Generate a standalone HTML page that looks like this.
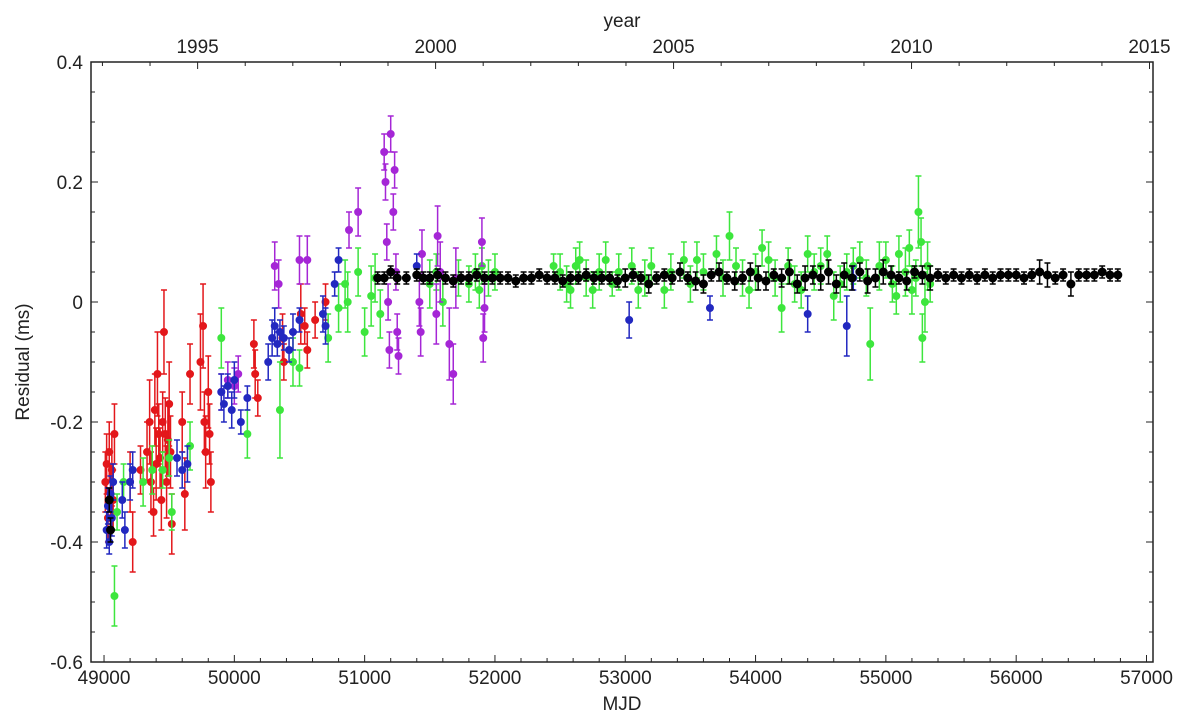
<!DOCTYPE html>
<html><head><meta charset="utf-8"><style>
body{margin:0;background:#fff;width:1200px;height:720px;overflow:hidden}
svg text{font-family:"Liberation Sans",sans-serif;fill:#222}
</style></head><body>
<svg id="c" width="1200" height="720">
<g id="marks"></g>
<g id="axes"></g>
</svg>
<script>
const redM=[49010,49030,49040,49050,49060,49080,49200,49220,49280,49330,49350,49360,49380,49400,49410,49420,49440,49460,49470,49480,49500,49510,49520,49600,49620,49660,49740,49760,49770,49780,49800,49820,49810,50150,50160,50180,50370,50380,50540,50560,50510,50700,50620,49020,49070,49390,49430,49450,49490];
const redR=[-0.30,-0.36,-0.25,-0.32,-0.28,-0.22,-0.30,-0.40,-0.28,-0.25,-0.20,-0.30,-0.35,-0.27,-0.12,-0.22,-0.33,-0.05,-0.22,-0.30,-0.17,-0.25,-0.37,-0.20,-0.32,-0.12,-0.10,-0.04,-0.20,-0.25,-0.15,-0.30,-0.22,-0.07,-0.12,-0.16,-0.06,-0.10,-0.04,-0.08,-0.02,0.00,-0.03,-0.27,-0.33,-0.18,-0.26,-0.20,-0.23];
const redE=[0.05,0.04,0.05,0.05,0.06,0.05,0.05,0.05,0.04,0.05,0.07,0.05,0.04,0.06,0.07,0.05,0.05,0.07,0.06,0.06,0.07,0.06,0.05,0.05,0.06,0.05,0.08,0.07,0.05,0.06,0.06,0.05,0.05,0.04,0.04,0.03,0.04,0.03,0.03,0.03,0.05,0.03,0.03,0.05,0.05,0.06,0.05,0.05,0.06];
const bluM=[49020,49030,49040,49050,49060,49070,49140,49160,49200,49220,49560,49600,49640,49900,49920,49950,49980,50000,50050,50100,50260,50290,50310,50330,50350,50380,50420,50450,50500,50680,50700,50770,50800,51400,53030,53650,54400,54700,54750];
const bluR=[-0.38,-0.34,-0.40,-0.32,-0.36,-0.30,-0.33,-0.38,-0.30,-0.28,-0.26,-0.28,-0.27,-0.15,-0.17,-0.14,-0.18,-0.13,-0.20,-0.16,-0.10,-0.06,-0.04,-0.07,-0.05,-0.06,-0.08,-0.05,-0.03,-0.02,-0.04,0.03,0.07,0.06,-0.03,-0.01,-0.02,-0.04,0.04];
const bluE=[0.03,0.03,0.02,0.03,0.03,0.03,0.03,0.03,0.03,0.03,0.03,0.03,0.03,0.03,0.03,0.02,0.03,0.03,0.02,0.02,0.03,0.03,0.03,0.02,0.02,0.02,0.02,0.03,0.02,0.03,0.03,0.02,0.02,0.02,0.03,0.02,0.03,0.05,0.02];
const grnM=[49080,49100,49150,49300,49370,49450,49500,49520,49660,49900,50100,50350,50450,50500,50720,50800,50870,50850,50950,51050,51080,51120,51000,51500,51550,51600,51720,51850,51900,51880,52450,52580,52650,52700,52800,52900,53050,53150,53300,53450,53600,53700,53800,53900,54000,54100,54200,54300,54400,54500,54600,54700,54800,54880,54950,55050,55100,55150,55200,55250,55280,55300,55320,52500,52550,52620,52750,52850,52950,53100,53200,53350,53500,53550,53750,53850,53950,54050,54150,54250,54350,54450,54550,54650,54750,54850,55000,55080,55180,55230,55270,55340,51950,52000,51800];
const grnR=[-0.49,-0.35,-0.30,-0.30,-0.28,-0.28,-0.26,-0.35,-0.24,-0.06,-0.22,-0.18,-0.10,-0.11,-0.06,-0.01,0.00,0.03,0.05,0.01,0.04,-0.02,-0.05,0.03,0.05,0.00,0.04,0.05,0.06,0.02,0.06,0.02,0.07,0.04,0.05,0.03,0.06,0.04,0.02,0.07,0.05,0.08,0.11,0.04,0.05,0.07,-0.01,0.03,0.08,0.06,0.01,0.05,0.07,-0.07,0.06,0.03,0.08,0.05,0.02,0.15,-0.06,0.00,0.06,0.05,0.03,0.06,0.02,0.07,0.05,0.02,0.06,0.05,0.03,0.07,0.04,0.06,0.02,0.09,0.04,0.06,0.02,0.05,0.08,0.03,0.06,0.04,0.07,0.01,0.09,0.04,0.10,0.03,0.04,0.05,0.03];
const grnE=[0.05,0.03,0.03,0.04,0.04,0.03,0.03,0.03,0.04,0.05,0.04,0.08,0.04,0.03,0.04,0.04,0.05,0.04,0.04,0.05,0.04,0.04,0.04,0.04,0.03,0.04,0.03,0.03,0.03,0.03,0.02,0.03,0.03,0.03,0.03,0.02,0.03,0.03,0.03,0.03,0.03,0.03,0.04,0.03,0.03,0.03,0.04,0.03,0.03,0.03,0.04,0.03,0.03,0.06,0.04,0.03,0.03,0.04,0.04,0.06,0.04,0.05,0.04,0.03,0.03,0.03,0.03,0.03,0.03,0.03,0.03,0.03,0.03,0.03,0.03,0.03,0.03,0.03,0.03,0.03,0.03,0.03,0.03,0.03,0.03,0.03,0.03,0.03,0.03,0.03,0.04,0.03,0.03,0.03,0.03];
const purM=[49900,49950,50000,50030,50310,50340,50500,50560,50880,50950,51150,51160,51170,51180,51190,51200,51220,51230,51240,51250,51260,51420,51430,51440,51550,51560,51580,51650,51680,51700,51900,51920,51910];
const purR=[-0.15,-0.13,-0.14,-0.12,0.06,0.03,0.07,0.07,0.12,0.15,0.25,0.20,0.10,0.00,-0.08,0.28,0.15,0.22,0.05,-0.05,-0.09,0.00,-0.05,0.08,-0.02,0.11,0.05,-0.07,-0.12,0.04,0.10,-0.01,-0.06];
const purE=[0.03,0.03,0.03,0.03,0.04,0.04,0.04,0.04,0.03,0.04,0.03,0.03,0.03,0.03,0.03,0.03,0.03,0.03,0.03,0.03,0.03,0.04,0.04,0.04,0.05,0.05,0.05,0.06,0.05,0.05,0.04,0.04,0.04];
const blkM=[49040,49050,51100,51150,51200,51250,51320,51400,51450,51500,51560,51620,51680,51740,51800,51860,51920,51980,52040,52100,52160,52220,52280,52340,52400,52460,52520,52580,52640,52700,52760,52820,52880,52940,53000,53060,53120,53180,53240,53300,53360,53420,53480,53540,53600,53660,53720,53780,53840,53900,53960,54020,54080,54140,54200,54260,54320,54380,54440,54500,54560,54620,54680,54740,54800,54860,54920,54980,55040,55100,55160,55220,55280,55340,55400,55460,55520,55580,55640,55700,55760,55820,55880,55940,56000,56060,56120,56180,56240,56300,56360,56420,56480,56540,56600,56660,56720,56780];
const blkR=[-0.33,-0.38,0.04,0.04,0.05,0.04,0.04,0.045,0.04,0.04,0.045,0.04,0.035,0.04,0.04,0.045,0.04,0.04,0.04,0.04,0.035,0.04,0.04,0.045,0.04,0.04,0.035,0.04,0.04,0.045,0.04,0.04,0.04,0.035,0.04,0.045,0.04,0.03,0.04,0.045,0.04,0.05,0.04,0.035,0.03,0.045,0.05,0.04,0.035,0.04,0.05,0.04,0.035,0.045,0.04,0.05,0.03,0.04,0.045,0.04,0.05,0.03,0.045,0.04,0.05,0.035,0.04,0.05,0.045,0.04,0.035,0.05,0.045,0.04,0.045,0.04,0.045,0.04,0.045,0.04,0.045,0.04,0.045,0.045,0.045,0.04,0.045,0.05,0.045,0.04,0.045,0.03,0.045,0.045,0.045,0.05,0.045,0.045];
const blkE=[0.02,0.02,0.01,0.01,0.01,0.01,0.01,0.01,0.01,0.01,0.01,0.01,0.01,0.01,0.01,0.01,0.01,0.01,0.01,0.01,0.01,0.01,0.01,0.01,0.01,0.01,0.01,0.01,0.01,0.01,0.01,0.01,0.01,0.01,0.015,0.01,0.01,0.015,0.01,0.01,0.01,0.015,0.01,0.015,0.015,0.01,0.015,0.01,0.015,0.01,0.015,0.02,0.015,0.01,0.015,0.02,0.015,0.02,0.015,0.02,0.02,0.015,0.02,0.02,0.015,0.02,0.015,0.02,0.015,0.01,0.015,0.01,0.015,0.02,0.01,0.01,0.01,0.01,0.01,0.01,0.01,0.01,0.01,0.01,0.01,0.01,0.01,0.02,0.02,0.01,0.01,0.02,0.01,0.01,0.01,0.01,0.01,0.01];
const xTicks=[49000,50000,51000,52000,53000,54000,55000,56000,57000];
const yTicks=[-0.6,-0.4,-0.2,0,0.2,0.4];
const yrTicks=[1995,2000,2005,2010,2015];

const X0=91,X1=1153,Y0=62,Y1=662,MMIN=48900,MMAX=57050,RMIN=-0.6,RMAX=0.4;
const xs=m=>X0+(m-MMIN)/(MMAX-MMIN)*(X1-X0);
const ys=r=>Y1-(r-RMIN)/(RMAX-RMIN)*(Y1-Y0);
const yearToMjd=y=>51544.5+(y-2000)*365.25;
const NS='http://www.w3.org/2000/svg';
function mk(p,t,a){const e=document.createElementNS(NS,t);for(const k in a)e.setAttribute(k,a[k]);p.appendChild(e);return e;}
const marks=document.getElementById('marks'),axes=document.getElementById('axes');
function series(M,R,E,col,name,rad){
  const g=mk(marks,'g',{stroke:col,fill:col});
  
  
  M.forEach((m,i)=>{
    const x=xs(m),yt=ys(R[i]+E[i]),yb=ys(R[i]-E[i]),y=ys(R[i]);
    mk(g,'path',{d:`M${x},${yt}V${yb}M${x-3},${yt}H${x+3}M${x-3},${yb}H${x+3}`,'stroke-width':1.5,fill:'none'});
    const c=mk(g,'circle',{cx:x,cy:y,r:rad});
    
    
  });
}
series(redM,redR,redE,'#e3171b','red-series',3.5);
series(grnM,grnR,grnE,'#3de63d','green-series',3.5);
series(purM,purR,purE,'#a526d6','purple-series',3.5);
series(bluM,bluR,bluE,'#2228c0','blue-series',3.5);
series(blkM,blkR,blkE,'#000','black-series',4);

mk(axes,'rect',{x:X0,y:Y0,width:X1-X0,height:Y1-Y0,fill:'none',stroke:'#222','stroke-width':1.5});
for(let m=49000;m<=57000;m+=200){const x=xs(m),big=m%1000===0?7:4;
  mk(axes,'line',{x1:x,x2:x,y1:Y1,y2:Y1-big,stroke:'#222'});}
xTicks.forEach(m=>{const t=mk(axes,'text',{x:xs(m),y:Y1+22,'text-anchor':'middle','font-size':19});t.textContent=m;
  });
for(let r=-0.6;r<=0.4001;r+=0.05){const y=ys(r),big=Math.abs(Math.round(r*20))%4===0?7:4;
  mk(axes,'line',{x1:X0,x2:X0+big,y1:y,y2:y,stroke:'#222'});mk(axes,'line',{x1:X1,x2:X1-big,y1:y,y2:y,stroke:'#222'});}
yTicks.forEach(r=>{const t=mk(axes,'text',{x:X0-8,y:ys(r)+7,'text-anchor':'end','font-size':19});t.textContent=r===0?'0':r.toFixed(1);
  });
for(let yr=1993;yr<=2015;yr++){const x=xs(yearToMjd(yr)),big=yr%5===0?7:4;if(x<X0||x>X1+1)continue;
  mk(axes,'line',{x1:x,x2:x,y1:Y0,y2:Y0+big,stroke:'#222'});}
yrTicks.forEach(yr=>{const t=mk(axes,'text',{x:Math.min(xs(yearToMjd(yr)),1160),y:Y0-9,'text-anchor':'middle','font-size':19});t.textContent=yr;
  });
let t=mk(axes,'text',{x:622,y:710,'text-anchor':'middle','font-size':19});t.textContent='MJD';

t=mk(axes,'text',{x:622,y:27,'text-anchor':'middle','font-size':19});t.textContent='year';

t=mk(axes,'text',{x:0,y:0,'text-anchor':'middle','font-size':19,transform:'translate(29,362) rotate(-90)'});t.textContent='Residual (ms)';

</script>
</body></html>
